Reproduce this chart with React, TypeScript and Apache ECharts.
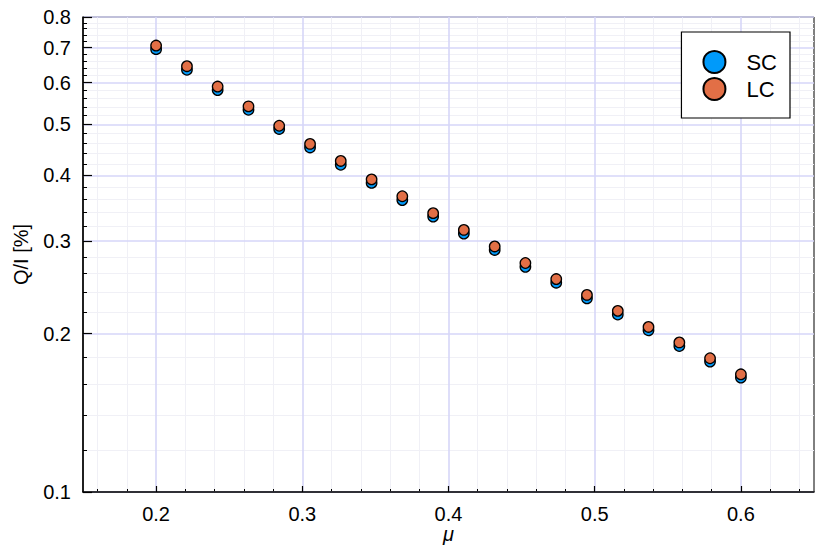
import React, { useEffect, useRef } from 'react';
import * as echarts from 'echarts';

const muValues = [0.2, 0.2211, 0.2421, 0.2632, 0.2842, 0.3053, 0.3263, 0.3474, 0.3684, 0.3895, 0.4105, 0.4316, 0.4526, 0.4737, 0.4947, 0.5158, 0.5368, 0.5579, 0.5789, 0.6];
const scValues = [0.695, 0.635, 0.581, 0.533, 0.49, 0.452, 0.419, 0.387, 0.359, 0.334, 0.31, 0.2885, 0.268, 0.25, 0.2335, 0.2175, 0.203, 0.1895, 0.177, 0.165];
const lcValues = [0.706, 0.645, 0.59, 0.541, 0.497, 0.459, 0.426, 0.393, 0.365, 0.339, 0.315, 0.293, 0.2725, 0.254, 0.237, 0.221, 0.206, 0.1925, 0.1796, 0.1674];

const xMajorTicks = [0.2, 0.3, 0.4, 0.5, 0.6];
const xMinorTicks = [0.16, 0.18, 0.22, 0.24, 0.26, 0.28, 0.32, 0.34, 0.36, 0.38, 0.42, 0.44, 0.46, 0.48, 0.52, 0.54, 0.56, 0.58, 0.62, 0.64];
const yMajorTicks = [0.1, 0.2, 0.3, 0.4, 0.5, 0.6, 0.7, 0.8];
const yMinorTicks = [0.12, 0.14, 0.16, 0.18, 0.22, 0.24, 0.26, 0.28, 0.32, 0.34, 0.36, 0.38, 0.42, 0.44, 0.46, 0.48, 0.52, 0.54, 0.56, 0.58, 0.62, 0.64, 0.66, 0.68, 0.72, 0.74, 0.76, 0.78];

const FONT = '"Liberation Sans", Arial, Helvetica, sans-serif';
const MAJOR_GRID = '#d6d6f8';
const MINOR_GRID = '#f0f0f6';

export default function App() {
  const ref = useRef<HTMLDivElement>(null);
  useEffect(() => {
    document.body.style.margin = '0';
    if (!ref.current) return;
    const chart = echarts.init(ref.current, null, { renderer: 'svg' });
    const fmt = (v: number) => (Math.round(v * 10) / 10).toFixed(1);
    chart.setOption({
      animation: false,
      backgroundColor: '#ffffff',
      grid: {
        left: 83, right: 16, top: 17, bottom: 62,
        show: true, borderColor: '#000000', borderWidth: 1, backgroundColor: 'transparent',
      },
      legend: {
        orient: 'vertical',
        right: 40, top: 32,
        backgroundColor: '#ffffff',
        borderColor: '#000000', borderWidth: 1.2,
        padding: [18, 13, 17, 21],
        itemGap: 3,
        itemWidth: 54, itemHeight: 22,
        icon: 'circle',
        itemStyle: { borderColor: '#000000', borderWidth: 2 },
        textStyle: { fontFamily: FONT, fontSize: 22, color: '#000000' },
        data: ['SC', 'LC'],
      },
      xAxis: [
        {
          type: 'value', min: 0.15, max: 0.65, z: 3,
          name: 'μ', nameLocation: 'middle', nameGap: 32, nameMoveOverlap: false,
          nameTextStyle: { fontFamily: FONT, fontSize: 20, lineHeight: 20, fontStyle: 'italic', color: '#000000' },
          axisLine: { show: true, lineStyle: { color: '#000000', width: 1.5 } },
          axisTick: { show: true, inside: true, length: 6, customValues: xMajorTicks, lineStyle: { color: '#000000', width: 1.2 } },
          axisLabel: { customValues: xMajorTicks, formatter: fmt, margin: 12, lineHeight: 20, fontFamily: FONT, fontSize: 20, color: '#000000' },
          splitLine: { show: true, lineStyle: { color: MAJOR_GRID, width: 1.6 } },
        },
        {
          type: 'value', min: 0.15, max: 0.65, position: 'bottom', z: 0,
          axisLine: { show: false },
          axisTick: { show: true, inside: true, length: 3, customValues: xMinorTicks, lineStyle: { color: '#000000', width: 1 } },
          axisLabel: { show: false, customValues: xMinorTicks },
          splitLine: { show: true, lineStyle: { color: MINOR_GRID, width: 1 } },
        },
      ],
      yAxis: [
        {
          type: 'log', logBase: 10, min: 0.1, max: 0.8, z: 3,
          name: 'Q/I [%]', nameLocation: 'middle', nameGap: 52,
          nameTextStyle: { fontFamily: FONT, fontSize: 20, color: '#000000' },
          axisLine: { show: true, lineStyle: { color: '#000000', width: 1.5 } },
          axisTick: { show: true, inside: true, length: 9, customValues: yMajorTicks, lineStyle: { color: '#000000', width: 1.2 } },
          axisLabel: { customValues: yMajorTicks, formatter: fmt, margin: 12, fontFamily: FONT, fontSize: 20, color: '#000000' },
          splitLine: { show: true, lineStyle: { color: MAJOR_GRID, width: 1.6 } },
        },
        {
          type: 'log', logBase: 10, min: 0.1, max: 0.8, position: 'left', z: 0,
          axisLine: { show: false },
          axisTick: { show: true, inside: true, length: 4, customValues: yMinorTicks, lineStyle: { color: '#000000', width: 1 } },
          axisLabel: { show: false, customValues: yMinorTicks },
          splitLine: { show: true, lineStyle: { color: MINOR_GRID, width: 1 } },
        },
      ],
      series: [
        {
          name: 'SC', type: 'scatter', xAxisIndex: 0, yAxisIndex: 0, z: 4,
          symbol: 'circle', symbolSize: 10.5,
          itemStyle: { color: '#009afa', borderColor: '#000000', borderWidth: 1.3, opacity: 1 },
          data: muValues.map((m, i) => [m, scValues[i]]),
        },
        {
          name: 'LC', type: 'scatter', xAxisIndex: 0, yAxisIndex: 0, z: 5,
          symbol: 'circle', symbolSize: 10.5,
          itemStyle: { color: '#e26f46', borderColor: '#000000', borderWidth: 1.3, opacity: 1 },
          data: muValues.map((m, i) => [m, lcValues[i]]),
        },
      ],
    });
    return () => chart.dispose();
  }, []);
  return <div ref={ref} style={{ width: 830, height: 554 }} />;
}
